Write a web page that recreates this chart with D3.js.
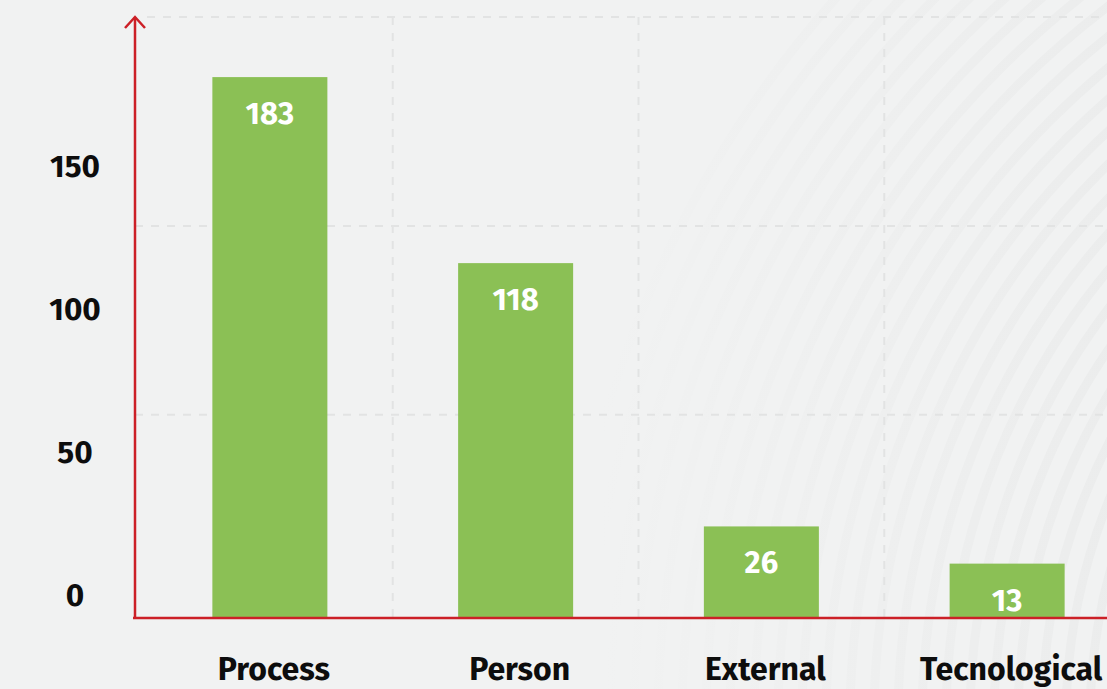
<!DOCTYPE html>
<html>
<head>
<meta charset="utf-8">
<script src="https://cdn.jsdelivr.net/npm/d3@7"></script>
<style>
  html, body { margin: 0; padding: 0; background: #f1f2f2; }
  svg { display: block; }
  text { font-family: "Fira Sans", "Open Sans", "Noto Sans", sans-serif; font-weight: 700; }
</style>
</head>
<body>
<svg id="chart" width="1107" height="689"></svg>
<script>
// Incident causes and counts
const categories = ["Process", "Person", "External", "Tecnological"];
const counts = [183, 118, 26, 13];
const tickValues = [0, 50, 100, 150];
const gridLevels = [65, 131, 204];

const W = 1107, H = 689;
const margin = { top: 17, left: 135, bottom: 71 };
const baseY = H - margin.bottom;

const svg = d3.select("#chart");

// soft curved stripes in the background
const defs = svg.append("defs");
const grad = defs.append("linearGradient")
  .attr("id", "stripeFade")
  .attr("gradientUnits", "userSpaceOnUse")
  .attr("x1", 600).attr("y1", 0).attr("x2", 1107).attr("y2", 0);
grad.append("stop").attr("offset", 0).attr("stop-color", "#e8e9e9").attr("stop-opacity", 0);
grad.append("stop").attr("offset", 1).attr("stop-color", "#e8e9e9").attr("stop-opacity", 0.6);

svg.append("rect").attr("width", W).attr("height", H).attr("fill", "#f1f2f2");
svg.append("g")
  .selectAll("circle")
  .data(d3.range(560, 1100, 24))
  .join("circle")
  .attr("cx", 1650).attr("cy", 720)
  .attr("r", d => d)
  .attr("fill", "none")
  .attr("stroke", "url(#stripeFade)")
  .attr("stroke-width", 9);

const x = d3.scaleBand()
  .domain(categories)
  .range([147, 1130])
  .paddingInner(0.532)
  .paddingOuter(0.266);

const y = d3.scaleLinear()
  .domain([-6, 204])
  .range([baseY, margin.top]);

// dashed grid
const grid = svg.append("g")
  .attr("fill", "none")
  .attr("stroke", "#e2e3e3")
  .attr("stroke-width", 2)
  .attr("stroke-dasharray", "8 8");

grid.selectAll("line.h")
  .data(gridLevels)
  .join("line")
  .attr("class", "h")
  .attr("x1", d => d === gridLevels[gridLevels.length - 1] ? 147 : margin.left)
  .attr("x2", W)
  .attr("y1", d => y(d)).attr("y2", d => y(d));

const step = x.step();
grid.selectAll("line.v")
  .data(categories.slice(1))
  .join("line")
  .attr("class", "v")
  .attr("x1", d => x(d) - step * x.paddingInner() / 2)
  .attr("x2", d => x(d) - step * x.paddingInner() / 2)
  .attr("y1", margin.top).attr("y2", baseY);

// bars
svg.append("g")
  .selectAll("rect")
  .data(categories)
  .join("rect")
  .attr("x", d => x(d))
  .attr("width", x.bandwidth())
  .attr("y", (d, i) => y(counts[i]))
  .attr("height", (d, i) => baseY - y(counts[i]))
  .attr("fill", "#8bc055");

// value labels inside bars
svg.append("g")
  .selectAll("text")
  .data(categories)
  .join("text")
  .attr("x", d => x(d) + x.bandwidth() / 2)
  .attr("y", (d, i) => y(counts[i]) + 47)
  .attr("text-anchor", "middle")
  .attr("font-size", 31)
  .attr("fill", "#ffffff")
  .text((d, i) => counts[i]);

// y axis with arrow
const red = "#cc2027";
const yAxis = d3.axisLeft(y).tickValues(tickValues).tickSize(0).tickPadding(0);
const gy = svg.append("g").attr("transform", `translate(${margin.left},0)`).call(yAxis);
gy.select(".domain").remove();
gy.selectAll(".tick text")
  .attr("x", 75 - margin.left)
  .attr("dy", "0.16em")
  .attr("text-anchor", "middle")
  .attr("font-size", 31.5)
  .attr("font-family", null)
  .attr("fill", "#0d0d0d");

svg.append("line")
  .attr("x1", margin.left).attr("x2", margin.left)
  .attr("y1", margin.top).attr("y2", baseY + 1)
  .attr("stroke", red).attr("stroke-width", 2.5);
svg.append("path")
  .attr("d", d3.line()([[margin.left - 10, margin.top + 11], [margin.left, margin.top], [margin.left + 10, margin.top + 11]]))
  .attr("fill", "none").attr("stroke", red).attr("stroke-width", 2.5);

// x axis
const xAxis = d3.axisBottom(x).tickSize(0).tickPadding(0);
const gx = svg.append("g").attr("transform", `translate(0,${baseY})`).call(xAxis);
gx.select(".domain").remove();
gx.selectAll(".tick text")
  .attr("x", 4)
  .attr("y", 62)
  .attr("dy", 0)
  .attr("font-size", 32)
  .attr("font-family", null)
  .attr("fill", "#0d0d0d");

svg.append("line")
  .attr("x1", margin.left - 2).attr("x2", W)
  .attr("y1", baseY).attr("y2", baseY)
  .attr("stroke", red).attr("stroke-width", 2.5);
</script>
</body>
</html>
